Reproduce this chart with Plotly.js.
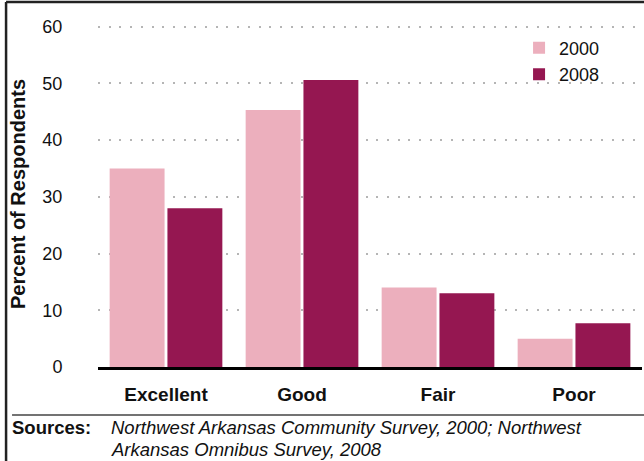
<!DOCTYPE html>
<html>
<head>
<meta charset="utf-8">
<script src="https://cdn.plot.ly/plotly-3.0.1.min.js"></script>
<style>
  html, body { margin: 0; padding: 0; background: #fff; }
  #chart { width: 644px; height: 461px; }
</style>
</head>
<body>
<div id="chart"></div>
<script>
const categories = ["Excellent", "Good", "Fair", "Poor"];
const values2000 = [35, 45.3, 14, 5];
const values2008 = [28, 50.6, 13, 7.7];
const seriesNames = ["2000", "2008"];
const yTicks = [0, 10, 20, 30, 40, 50, 60];

const FONT = "Liberation Sans, Arial, Helvetica, sans-serif";

const traces = [
  { type: "bar", name: seriesNames[0], x: categories, y: values2000,
    marker: { color: "#ecafbd" }, hoverinfo: "none" },
  { type: "bar", name: seriesNames[1], x: categories, y: values2008,
    marker: { color: "#951751" }, hoverinfo: "none" }
];

const layout = {
  width: 644, height: 461,
  margin: { l: 98, r: 2, t: 21, b: 94 },
  paper_bgcolor: "#fff", plot_bgcolor: "#fff",
  font: { family: FONT, color: "#111" },
  barmode: "group", bargap: 0.15, bargroupgap: 0.05,
  showlegend: true,
  legend: {
    x: 0.774, y: 0.975, xanchor: "left", yanchor: "top",
    font: { family: FONT, size: 18, color: "#111" },
    bgcolor: "rgba(0,0,0,0)", tracegroupgap: 0
  },
  xaxis: {
    type: "category", range: [-0.5, 3.5], fixedrange: true,
    showline: true, linecolor: "#000", linewidth: 3,
    showgrid: false, zeroline: false,
    ticks: "outside", ticklen: 8, tickcolor: "rgba(0,0,0,0)",
    tickfont: { family: FONT, size: 19, color: "#111", weight: "bold" }
  },
  yaxis: {
    range: [0, 61], fixedrange: true,
    tickvals: yTicks, ticktext: yTicks.map(String),
    showline: false, zeroline: false,
    showgrid: true, gridcolor: "#b5b5b5", gridwidth: 2, griddash: "2px,8.7px",
    ticks: "outside", ticklen: 31, tickcolor: "rgba(0,0,0,0)",
    tickfont: { family: FONT, size: 18, color: "#111" }
  },
  annotations: [
    { text: "<b>Percent of Respondents</b>", xref: "paper", yref: "paper",
      x: -0.147, y: 0.5, xanchor: "center", yanchor: "middle", textangle: -90,
      showarrow: false, font: { family: FONT, size: 20, color: "#111" } },
    { text: "<b>Sources:</b>", xref: "paper", yref: "paper",
      x: -0.162, y: -0.176, xanchor: "left", yanchor: "middle",
      showarrow: false, font: { family: FONT, size: 18.5, color: "#111" } },
    { text: "<i>Northwest Arkansas Community Survey, 2000; Northwest</i>",
      xref: "paper", yref: "paper", x: 0.02, y: -0.176, xanchor: "left", yanchor: "middle",
      align: "left", showarrow: false, font: { family: FONT, size: 18.5, color: "#111" } },
    { text: "<i>Arkansas Omnibus Survey, 2008</i>",
      xref: "paper", yref: "paper", x: 0.02, y: -0.237, xanchor: "left", yanchor: "middle",
      align: "left", showarrow: false, font: { family: FONT, size: 18.5, color: "#111" } }
  ],
  shapes: [
    { type: "line", xref: "paper", yref: "paper", x0: -0.158, x1: 1.01, y0: -0.139, y1: -0.139,
      line: { color: "#444", width: 1.5 } },
    { type: "line", xref: "paper", yref: "paper", x0: -0.169, x1: 1.01, y0: 1.055, y1: 1.055,
      line: { color: "#222", width: 2.5 } },
    { type: "line", xref: "paper", yref: "paper", x0: -0.169, x1: -0.169, y0: 1.055, y1: -0.3,
      line: { color: "#222", width: 2.5 } }
  ]
};

Plotly.newPlot("chart", traces, layout, { staticPlot: true, displayModeBar: false });
</script>
</body>
</html>
